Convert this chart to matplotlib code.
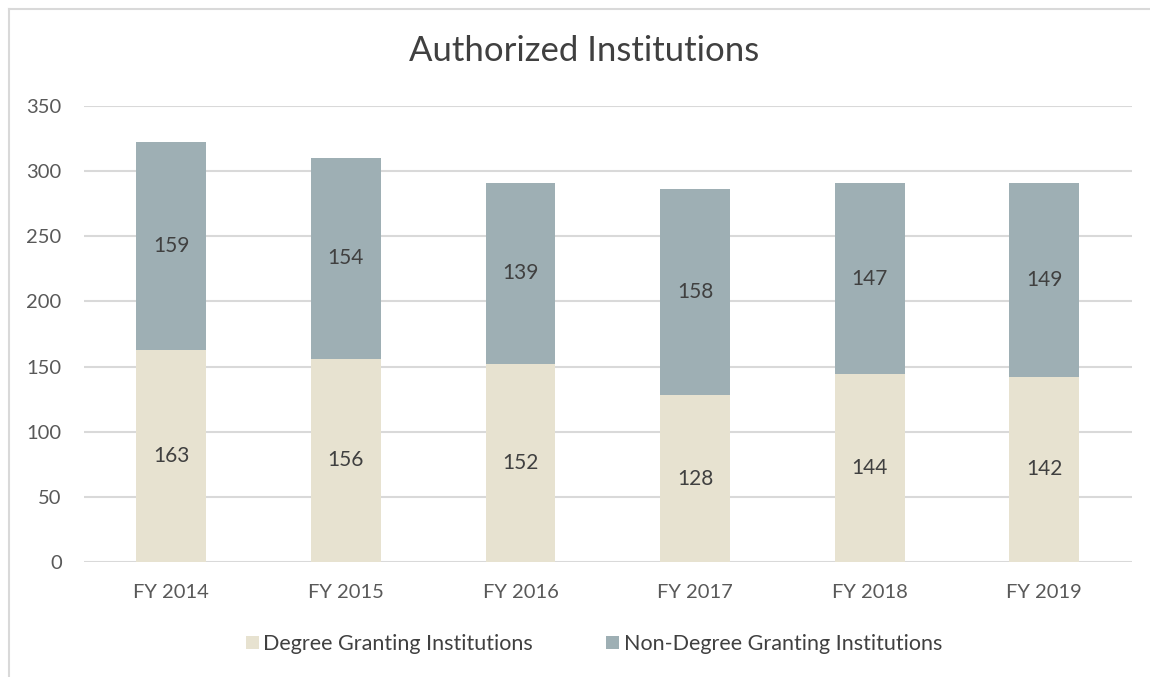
import numpy as np
import matplotlib.pyplot as plt
from matplotlib.lines import Line2D

# === Data ===
years = ["FY 2014", "FY 2015", "FY 2016", "FY 2017", "FY 2018", "FY 2019"]
degree = [163, 156, 152, 128, 144, 142]
non_degree = [159, 154, 139, 158, 147, 149]

plt.rcParams["font.family"] = ["Lato", "DejaVu Sans"]

c_degree = "#E7E2D0"
c_non = "#9EAFB4"
txt = "#404040"
tick_c = "#595959"

fig = plt.figure(figsize=(11.5, 6.77), dpi=100)
ax = fig.add_axes([0.073, 0.170, 0.911, 0.6734])

x = np.arange(len(years))
w = 0.4
b1 = ax.bar(x, degree, w, color=c_degree, label="Degree Granting Institutions", zorder=2)
b2 = ax.bar(x, non_degree, w, bottom=degree, color=c_non,
            label="Non-Degree Granting Institutions", zorder=2)

for i in range(len(years)):
    ax.text(x[i], degree[i] / 2, str(degree[i]), ha="center", va="center",
            fontsize=15, color=txt)
    ax.text(x[i], degree[i] + non_degree[i] / 2, str(non_degree[i]), ha="center",
            va="center", fontsize=15, color=txt)

ax.set_ylim(0, 350)
ax.set_xlim(-0.5, len(years) - 0.5)
ax.set_yticks(range(0, 351, 50))
ax.set_xticks(x)
ax.set_xticklabels(years)
ax.tick_params(axis="both", length=0, labelsize=14.5, colors=tick_c)
ax.tick_params(axis="y", pad=16)
ax.tick_params(axis="x", pad=16)
ax.grid(axis="y", color="#D9D9D9", linewidth=1.5, zorder=0)
for s in ax.spines.values():
    s.set_visible(False)

fig.text(0.508, 0.925, "Authorized Institutions", ha="center", va="center",
         fontsize=25, color=txt)

ax.legend(loc="center", bbox_to_anchor=(0.487, -0.18), ncol=2, frameon=False,
          fontsize=15.5, handlelength=0.6, handleheight=0.6, handletextpad=0.2,
          columnspacing=3.4, labelcolor=txt)

# chart frame (left and top edges only visible)
fig.add_artist(Line2D([0.0075, 0.0075], [0, 0.987], color="#D9D9D9", linewidth=1.5,
                      transform=fig.transFigure))
fig.add_artist(Line2D([0.0075, 1.0], [0.987, 0.987], color="#D9D9D9", linewidth=1.5,
                      transform=fig.transFigure))

fig.savefig("out.png", dpi=100)
